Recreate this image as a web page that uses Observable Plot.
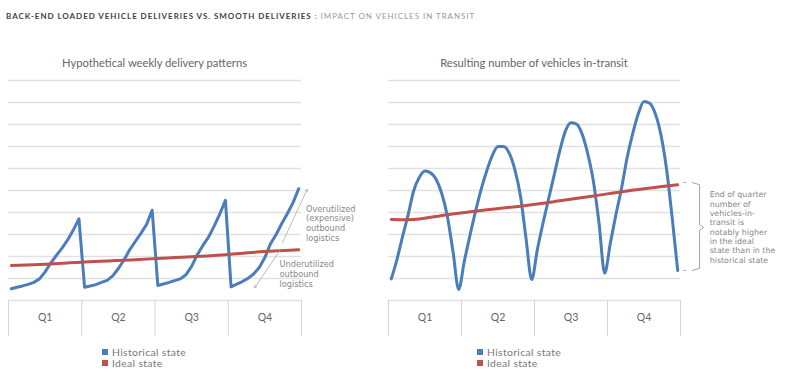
<!DOCTYPE html>
<html>
<head>
<meta charset="utf-8">
<script src="https://cdn.jsdelivr.net/npm/d3@7"></script>
<script src="https://cdn.jsdelivr.net/npm/@observablehq/plot@0.6"></script>
<style>
  html, body { margin: 0; padding: 0; background: #fff; }
  #wrap { position: relative; width: 800px; height: 381px; font-family: Lato, "Open Sans", sans-serif; overflow: hidden; }
  .abs { position: absolute; }
  #title { left: 6px; top: 10px; font-size: 8px; letter-spacing: 0.95px; white-space: nowrap; line-height: 12px; }
  #title b { color: #3f3f3f; font-weight: 700; }
  #title span { color: #999; font-weight: 400; }
  .ptitle { font-size: 11.2px; color: #666; text-align: center; line-height: 12px; white-space: nowrap; }
  .legend { font-size: 10.4px; letter-spacing: 0.35px; color: #777; line-height: 11px; }
  .legend div { display: flex; align-items: center; white-space: nowrap; height: 11px; }
  .sw { width: 6px; height: 6px; margin-right: 4px; display: inline-block; }
</style>
</head>
<body>
<div id="wrap">
  <div id="title" class="abs"><b>BACK-END LOADED VEHICLE DELIVERIES VS. SMOOTH DELIVERIES</b><span style="color:#666"> : </span><span>IMPACT ON VEHICLES IN TRANSIT</span></div>
  <div class="abs ptitle" style="left:8px; width:293px; top:57px;">Hypothetical weekly delivery patterns</div>
  <div class="abs ptitle" style="left:388px; width:292px; top:57px;">Resulting number of vehicles in-transit</div>
  <div id="left" class="abs" style="left:0; top:70px;"></div>
  <div id="right" class="abs" style="left:370px; top:70px;"></div>
  <div id="legL" class="abs legend" style="left:102px; top:346.5px;"></div>
  <div id="legR" class="abs legend" style="left:477px; top:346.5px;"></div>
</div>
<script>
// ---------- data ----------
const quarters = ["Q1", "Q2", "Q3", "Q4"];
const quarterMidWeek = [6, 19, 32, 45];
const quarterBounds = [-0.5, 12.5, 25.5, 38.5, 51.5];
const gridValues = [0, 1, 2, 3, 4, 5, 6, 7, 8, 9, 10];
const seriesNames = ["Historical state", "Ideal state"];
const seriesColors = ["#4a7ebb", "#c0504d"];

// weekly deliveries (52 weeks)
const deliveriesHistorical = [
  0.53, 0.60, 0.66, 0.73, 0.82, 0.98, 1.30, 1.70, 2.05, 2.38, 2.75, 3.20, 3.71,
  0.60, 0.66, 0.72, 0.82, 0.91, 1.12, 1.45, 1.84, 2.30, 2.68, 3.05, 3.45, 4.10,
  0.68, 0.75, 0.82, 0.90, 0.98, 1.17, 1.55, 2.08, 2.50, 2.88, 3.38, 3.93, 4.55,
  0.62, 0.74, 0.86, 1.00, 1.20, 1.50, 1.95, 2.58, 3.00, 3.50, 3.95, 4.45, 5.08
];
const deliveriesIdealWeek = [0, 4, 13, 22, 26, 38, 42, 51];
const deliveriesIdealValue = [1.59, 1.62, 1.75, 1.85, 1.91, 2.08, 2.17, 2.30];

// weekly vehicles in transit (52 weeks)
const transitHistorical = [
  0.98, 1.86, 2.90, 3.90, 5.00, 5.60, 5.88, 5.80, 5.50, 4.85, 3.80, 2.20, 0.50,
  1.78, 2.95, 4.05, 5.05, 5.90, 6.60, 7.00, 7.00, 6.70, 5.95, 4.75, 2.80, 0.95,
  2.30, 3.50, 4.60, 5.70, 6.80, 7.70, 8.08, 8.02, 7.55, 6.65, 5.40, 3.50, 1.24,
  2.60, 3.90, 5.10, 6.50, 7.60, 8.50, 9.05, 8.97, 8.50, 7.55, 6.00, 3.80, 1.36
];
const transitIdealWeek = [0, 3, 10, 16, 24, 30, 36, 42, 51];
const transitIdealValue = [3.68, 3.67, 3.90, 4.09, 4.32, 4.53, 4.75, 4.98, 5.26];

// annotations (data units: week, value)
const overText = "Overutilized\n(expensive)\noutbound\nlogistics";
const underText = "Underutilized\noutbound\nlogistics";
const braceText = "End of quarter\nnumber of\nvehicles-in-\ntransit is\nnotably higher\nin the ideal\nstate than in the\nhistorical state";
const leftArrows = [
  {x1: 48.1, y1: 2.62, x2: 52.5, y2: 5.05},
  {x1: 47.7, y1: 2.28, x2: 43.2, y2: 0.58}
];
const braceWeek = [53.6, 54.9, 54.9, 55.6, 54.9, 54.9, 53.6];
const braceValue = [5.36, 5.26, 3.45, 3.32, 3.19, 1.46, 1.36];
const braceEndTickValue = [5.36, 1.36];

// ---------- drawing ----------
const yDomain = [-1.64, 10];
const xDomain = [-0.5, 51.5];
const FONT = "Lato, 'Open Sans', sans-serif";
const NOTE_FONT = "'DejaVu Sans', sans-serif";

function frameMarks() {
  return [
    Plot.ruleY(gridValues, {y: d => d, x1: xDomain[0], x2: xDomain[1], stroke: "#e1e1e1", strokeWidth: 1.5}),
    Plot.ruleX(quarterBounds, {x: d => d, y1: yDomain[0], y2: 0, stroke: "#d4d4d4", strokeWidth: 1}),
    Plot.text(quarters, {x: (d, i) => quarterMidWeek[i], y: -0.8, text: d => d, fontSize: 10.5, fill: "#666"})
  ];
}

const left = Plot.plot({
  width: 370, height: 275,
  marginLeft: 8, marginRight: 69, marginTop: 10, marginBottom: 9,
  x: {domain: xDomain, axis: null},
  y: {domain: yDomain, axis: null},
  style: {fontFamily: FONT, background: "transparent", overflow: "visible"},
  marks: [
    ...frameMarks(),
    Plot.line(deliveriesHistorical, {x: (d, i) => i, y: d => d, stroke: seriesColors[0], strokeWidth: 3, strokeLinejoin: "round"}),
    Plot.line(deliveriesIdealWeek, {x: d => d, y: (d, i) => deliveriesIdealValue[i], stroke: seriesColors[1], strokeWidth: 3, curve: "monotone-x"}),
    Plot.arrow(leftArrows, {x1: "x1", y1: "y1", x2: "x2", y2: "y2", stroke: "#aaa", strokeWidth: 0.8, headLength: 5}),
    Plot.text([overText], {x: 52.3, y: 3.52, text: d => d, textAnchor: "start", fontFamily: NOTE_FONT, fontSize: 8.2, lineHeight: 1.18, fill: "#888"}),
    Plot.text([underText], {x: 47.6, y: 1.2, text: d => d, textAnchor: "start", fontFamily: NOTE_FONT, fontSize: 8.2, lineHeight: 1.18, fill: "#888"})
  ]
});
document.getElementById("left").append(left);

const right = Plot.plot({
  width: 430, height: 275,
  marginLeft: 18, marginRight: 120, marginTop: 10, marginBottom: 9,
  x: {domain: xDomain, axis: null},
  y: {domain: yDomain, axis: null},
  style: {fontFamily: FONT, background: "transparent", overflow: "visible"},
  marks: [
    ...frameMarks(),
    Plot.line(transitHistorical, {x: (d, i) => i, y: d => d, stroke: seriesColors[0], strokeWidth: 3, curve: "monotone-x"}),
    Plot.line(transitIdealWeek, {x: d => d, y: (d, i) => transitIdealValue[i], stroke: seriesColors[1], strokeWidth: 3, curve: "monotone-x"}),
    Plot.ruleY(braceEndTickValue, {y: d => d, x1: 52.1, x2: 52.6, stroke: "#999", strokeWidth: 0.9}),
    Plot.line(braceWeek, {x: d => d, y: (d, i) => braceValue[i], stroke: "#999", strokeWidth: 0.9}),
    Plot.text([braceText], {x: 56.7, y: 3.34, text: d => d, textAnchor: "start", fontFamily: NOTE_FONT, fontSize: 7.9, lineHeight: 1.18, fill: "#888"})
  ]
});
document.getElementById("right").append(right);

function legend(el) {
  const node = document.getElementById(el);
  seriesNames.forEach((name, i) => {
    const row = document.createElement("div");
    const sw = document.createElement("span");
    sw.className = "sw";
    sw.style.background = seriesColors[i];
    row.append(sw, document.createTextNode(name));
    node.append(row);
  });
}
legend("legL");
legend("legR");
</script>
</body>
</html>
